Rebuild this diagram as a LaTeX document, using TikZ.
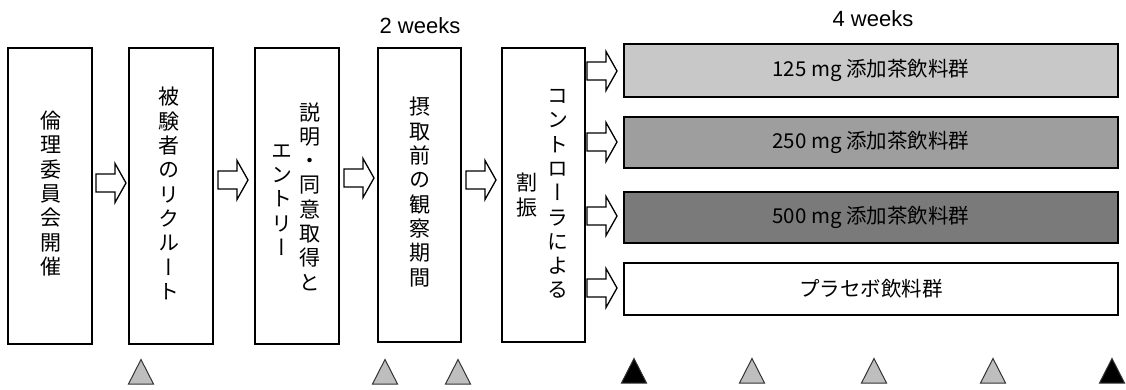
\documentclass[tikz,border=0pt]{standalone}
\usepackage{fontspec}
\newfontfamily\jp{Noto Sans CJK JP}
\newfontfamily\vjp[RawFeature=+vert]{Noto Sans CJK JP}
\newfontfamily\lat{Liberation Sans}
\definecolor{barA}{RGB}{200,200,200}
\definecolor{barB}{RGB}{158,158,158}
\definecolor{barC}{RGB}{122,122,122}
\definecolor{triG}{RGB}{190,190,190}
\tikzset{
  stepbox/.style={draw=black, line width=1.4pt, fill=white, inner sep=0pt},
  vtext/.style={font=\vjp\fontsize{21}{24.3}\selectfont, align=center, inner sep=0pt},
  bartext/.style={font=\jp\fontsize{20.5}{22}\selectfont, inner sep=0pt},
  weektext/.style={font=\lat\fontsize{22}{24}\selectfont, anchor=base, inner sep=0pt},
  pics/barrow/.style={code={
    \draw[line width=1.3pt, fill=white, line join=miter]
      (0,-9) -- (19,-9) -- (19,-19.5) -- (30,0) -- (19,19.5) -- (19,9) -- (0,9) -- cycle;}},
  pics/tri/.style={code={
    \draw[line width=1pt, fill=#1, draw=black!80] (-12.5,12) -- (12.5,12) -- (0,-12.5) -- cycle;}}
}
\begin{document}
\begin{tikzpicture}[x=1pt,y=-1pt]
\useasboundingbox (0,0) rectangle (1126,389);
% step boxes
\node[stepbox, minimum width=84pt, minimum height=296pt] (b1) at (50,196) {};
\node[stepbox, minimum width=84pt, minimum height=296pt] (b2) at (171,196) {};
\node[stepbox, minimum width=84pt, minimum height=296pt] (b3) at (297,196) {};
\node[stepbox, minimum width=83pt, minimum height=294pt] (b4) at (419.5,195) {};
\node[stepbox, minimum width=83pt, minimum height=294pt] (b5) at (543.5,195) {};
% texts
\node[vtext] (t1) at (51,193.5) {倫\\理\\委\\員\\会\\開\\催};
\node[vtext] (t2) at (169,193.5) {被\\験\\者\\の\\リ\\ク\\ル\\ー\\ト};
\node[vtext] (t3a) at (310,196.5) {説\\明\\・\\同\\意\\取\\得\\と};
\node[vtext] (t3b) at (282,200) {エ\\ン\\ト\\リ\\ー};
\node[vtext] (t4) at (420,192) {摂\\取\\前\\の\\観\\察\\期\\間};
\node[vtext] (t5a) at (558,194) {コ\\ン\\ト\\ロ\\ー\\ラ\\に\\よ\\る};
\node[vtext] (t5b) at (527,195) {割\\振};
% bars
\node[stepbox, fill=barA, minimum width=494pt, minimum height=53pt] (g1) at (871,70.5) {};
\node[stepbox, fill=barB, minimum width=494pt, minimum height=51pt] (g2) at (871,142.5) {};
\node[stepbox, fill=barC, minimum width=494pt, minimum height=51pt] (g3) at (871,217.5) {};
\node[stepbox, fill=white, minimum width=494pt, minimum height=52pt] (g4) at (871,289) {};
\node[bartext] at (g1) {125 mg 添加茶飲料群};
\node[bartext] at (g2) {250 mg 添加茶飲料群};
\node[bartext] at (g3) {500 mg 添加茶飲料群};
\node[bartext] at (g4) {プラセボ飲料群};
% week labels
\node[weektext] (w2) at (420,33) {2 weeks};
\node[weektext] (w4) at (873,26) {4 weeks};
% block arrows
\pic at (96,183) {barrow};
\pic at (218,180) {barrow};
\pic at (344,178) {barrow};
\pic at (466,180) {barrow};
\pic at (587,71) {barrow};
\pic at (587,142) {barrow};
\pic at (587,216) {barrow};
\pic at (587,288) {barrow};
% triangles
\pic at (141,372) {tri=triG};
\pic at (385,372) {tri=triG};
\pic at (458,372) {tri=triG};
\pic at (634,371) {tri=black};
\pic at (752,371) {tri=triG};
\pic at (874,371) {tri=triG};
\pic at (993,371) {tri=triG};
\pic at (1112,371) {tri=black};
\end{tikzpicture}
\end{document}
